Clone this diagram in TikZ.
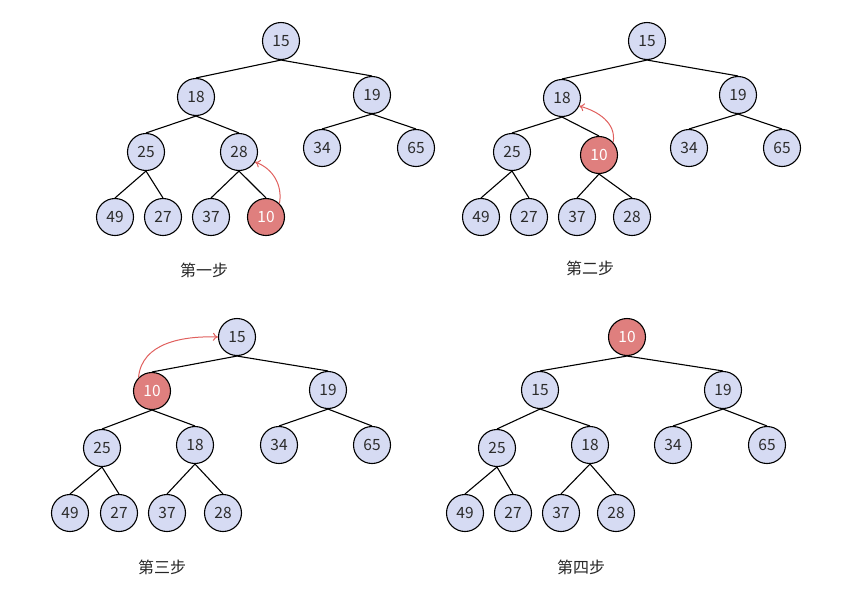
\documentclass[tikz,border=0pt]{standalone}
\usepackage{fontspec}
\setmainfont{Noto Sans CJK SC}
\usepackage{tikz}
\usetikzlibrary{arrows.meta}
\definecolor{keyfill}{HTML}{D6DBF3}
\definecolor{hotfill}{HTML}{DF7F7E}
\definecolor{swapred}{HTML}{E0605E}
\definecolor{inkgray}{HTML}{2B2B2B}

\begin{document}
\begin{tikzpicture}[x=1pt, y=-1pt,
  every node/.style={font=\fontsize{15.5}{15.5}\selectfont, text=inkgray},
  key/.style={circle, draw=black, line width=1.1pt, fill=keyfill,
    minimum size=37pt, inner sep=0pt},
  hot/.style={key, fill=hotfill, text=white},
  steplabel/.style={font=\fontsize{16}{16}\selectfont, text=black!85},
  link/.style={line width=1.1pt},
  swap/.style={->, swapred, line width=1pt},
  >={To[length=5pt, width=8pt]},
]
  \useasboundingbox (0,0) rectangle (860,595);

  % step 1
  \node[key] (a1) at (281,41) {15};
  \node[key] (a2) at (196,97) {18};
  \node[key] (a3) at (372,95) {19};
  \node[key] (a4) at (146,152) {25};
  \node[key] (a5) at (239,152) {28};
  \node[key] (a6) at (322,148) {34};
  \node[key] (a7) at (416,148) {65};
  \node[key] (a8) at (115,217) {49};
  \node[key] (a9) at (163,217) {27};
  \node[key] (a10) at (211,217) {37};
  \node[hot] (a11) at (266,217) {10};
  \node[steplabel] (alabel) at (204,270) {第一步};

  \draw[link] (a1.south) -- (a2.north) (a1.south) -- (a3.north);
  \draw[link] (a2.south) -- (a4.north) (a2.south) -- (a5.north);
  \draw[link] (a3.south) -- (a6.north) (a3.south) -- (a7.north);
  \draw[link] (a4.south) -- (a8.north) (a4.south) -- (a9.north);
  \draw[link] (a5.south) -- (a10.north) (a5.south) -- (a11.north);
  \draw[swap] (a11.45) to[out=80, in=-20] (a5.-32);

  % step 2
  \node[key] (b1) at (647,41) {15};
  \node[key] (b2) at (562,98) {18};
  \node[key] (b3) at (738,95) {19};
  \node[key] (b4) at (512,152) {25};
  \node[hot] (b5) at (599,155) {10};
  \node[key] (b6) at (689,148) {34};
  \node[key] (b7) at (782,148) {65};
  \node[key] (b8) at (481,217) {49};
  \node[key] (b9) at (529,217) {27};
  \node[key] (b10) at (577,217) {37};
  \node[key] (b11) at (632,217) {28};
  \node[steplabel] (blabel) at (590,268) {第二步};

  \draw[link] (b1.south) -- (b2.north) (b1.south) -- (b3.north);
  \draw[link] (b2.south) -- (b4.north) (b2.south) -- (b5.north);
  \draw[link] (b3.south) -- (b6.north) (b3.south) -- (b7.north);
  \draw[link] (b4.south) -- (b8.north) (b4.south) -- (b9.north);
  \draw[link] (b5.south) -- (b10.north) (b5.south) -- (b11.north);
  \draw[swap] (b5.42) to[out=80, in=-15] (b2.-25);

  % step 3
  \node[key] (c1) at (237,337) {15};
  \node[hot] (c2) at (152,391) {10};
  \node[key] (c3) at (328,390) {19};
  \node[key] (c4) at (102,448) {25};
  \node[key] (c5) at (195,445) {18};
  \node[key] (c6) at (279,445) {34};
  \node[key] (c7) at (372,445) {65};
  \node[key] (c8) at (70,513) {49};
  \node[key] (c9) at (119,513) {27};
  \node[key] (c10) at (167,513) {37};
  \node[key] (c11) at (223,513) {28};
  \node[steplabel] (clabel) at (162,567) {第三步};

  \draw[link] (c1.south) -- (c2.north) (c1.south) -- (c3.north);
  \draw[link] (c2.south) -- (c4.north) (c2.south) -- (c5.north);
  \draw[link] (c3.south) -- (c6.north) (c3.south) -- (c7.north);
  \draw[link] (c4.south) -- (c8.north) (c4.south) -- (c9.north);
  \draw[link] (c5.south) -- (c10.north) (c5.south) -- (c11.north);
  \draw[swap] (c2.135) to[out=85, in=178] (c1.180);

  % step 4
  \node[hot] (d1) at (627,337) {10};
  \node[key] (d2) at (540,390) {15};
  \node[key] (d3) at (723,390) {19};
  \node[key] (d4) at (497,448) {25};
  \node[key] (d5) at (590,445) {18};
  \node[key] (d6) at (673,445) {34};
  \node[key] (d7) at (767,445) {65};
  \node[key] (d8) at (465,513) {49};
  \node[key] (d9) at (513,513) {27};
  \node[key] (d10) at (561,513) {37};
  \node[key] (d11) at (616,513) {28};
  \node[steplabel] (dlabel) at (581,567) {第四步};

  \draw[link] (d1.south) -- (d2.north) (d1.south) -- (d3.north);
  \draw[link] (d2.south) -- (d4.north) (d2.south) -- (d5.north);
  \draw[link] (d3.south) -- (d6.north) (d3.south) -- (d7.north);
  \draw[link] (d4.south) -- (d8.north) (d4.south) -- (d9.north);
  \draw[link] (d5.south) -- (d10.north) (d5.south) -- (d11.north);
\end{tikzpicture}
\end{document}
